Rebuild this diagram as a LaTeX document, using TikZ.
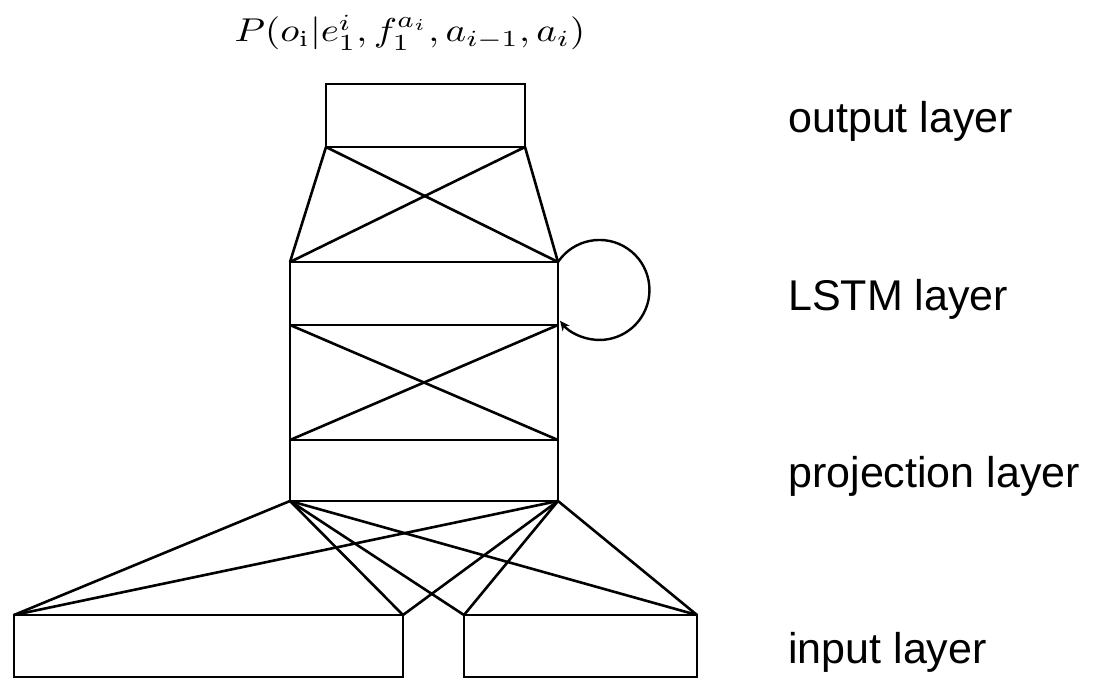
\documentclass[tikz,border=0pt]{standalone}
\usepackage{fontspec}
\setsansfont{Liberation Sans}
\usetikzlibrary{arrows.meta}
\begin{document}
\begin{tikzpicture}[x=1pt,y=-1pt, line width=2.7pt, line join=miter,
  layerbox/.style={draw, rectangle, inner sep=0pt, outer sep=0pt, anchor=north west},
  conn/.style={draw, line width=2.6pt},
  lbl/.style={anchor=base west, inner sep=0pt, font=\fontsize{43}{50}\selectfont\sffamily}]
\useasboundingbox (0,0) rectangle (1095,679);
\node[layerbox, minimum width=199pt, minimum height=63pt] (out) at (326,84) {};
\node[layerbox, minimum width=268pt, minimum height=63pt] (lstm) at (290,262) {};
\node[layerbox, minimum width=268pt, minimum height=61pt] (proj) at (290,440) {};
\node[layerbox, minimum width=389pt, minimum height=62pt] (inL) at (14,615) {};
\node[layerbox, minimum width=233pt, minimum height=62pt] (inR) at (464,615) {};
% output <-> LSTM
\draw[conn] (out.south west) -- (lstm.north west);
\draw[conn] (out.south east) -- (lstm.north east);
\draw[conn] (out.south west) -- (lstm.north east);
\draw[conn] (out.south east) -- (lstm.north west);
% LSTM <-> projection
\draw[conn] (lstm.south west) -- (proj.north west);
\draw[conn] (lstm.south east) -- (proj.north east);
\draw[conn] (lstm.south west) -- (proj.north east);
\draw[conn] (lstm.south east) -- (proj.north west);
% projection <-> input
\foreach \s in {south west, south east}{
  \foreach \t in {inL.north west, inL.north east, inR.north west, inR.north east}{
    \draw[conn] (proj.\s) -- (\t);
  }
}
% recurrent loop
\draw[conn, line width=2.4pt, -{Stealth[length=10pt,width=9pt]}] (lstm.north east) arc[start angle=214, end angle=502, radius=50];
% texts
\node[anchor=base, inner sep=0pt, font=\fontsize{10}{12}\selectfont, xscale=3.9, yscale=3.3] (prob) at (410,42) {$P(o_{\mathrm{i}}|e_1^i, f_1^{a_i}, a_{i-1}, a_i)$};
\node[lbl] (lout) at (787,133) {output layer};
\node[lbl] (llstm) at (787,310) {LSTM layer};
\node[lbl] (lproj) at (787,487) {projection layer};
\node[lbl] (lin) at (787,663) {input layer};
\end{tikzpicture}
\end{document}
